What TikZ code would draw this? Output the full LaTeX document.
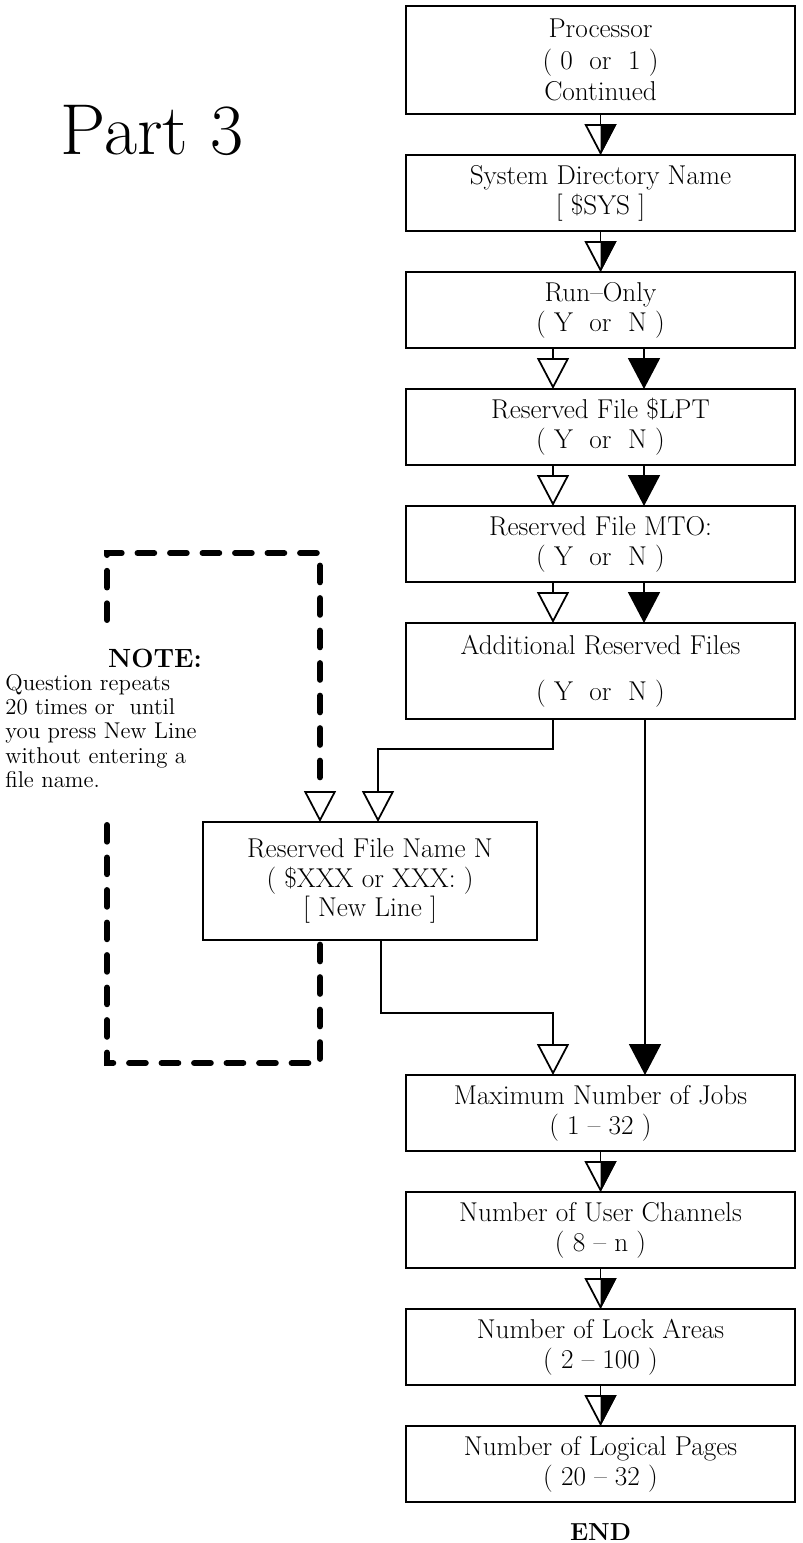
\documentclass[tikz,border=0pt]{standalone}
\usepackage{amsmath,amssymb}
\usetikzlibrary{arrows.meta, positioning, shapes, calc}

\begin{document}
\begin{tikzpicture}[
    node distance=0.82cm,
    box/.style={rectangle, draw, line width=1pt, minimum width=7.78cm, minimum height=1.52cm, align=center, inner sep=0pt, outer sep=0pt, font=\fontsize{15.5}{17}\selectfont},
    openarrow/.style={-{Triangle[open, width=0.64cm, length=0.62cm]}, line width=1pt},
    fillarrow/.style={-{Triangle[width=0.64cm, length=0.62cm]}, line width=1pt},
    halfblack/.pic={\fill (0,0) -- (0,0.62) -- (0.32,0.62) -- cycle;},
    loopline/.style={line width=3.4pt, dash pattern=on 9.5pt off 9pt, line cap=round}
]
    \useasboundingbox (0,0) rectangle (16.04,-30.86);

    % Title
    \node[font=\fontsize{41}{46}\selectfont] (part) at (3.04,-2.6) {Part 3};

    % Main column
    \node[box, minimum height=2.16cm] (proc) at (12.01,-1.2) {Processor\\[1pt]( 0~~or~~1 )\\[1pt]Continued};
    \node[box, below=of proc] (sys) {System Directory Name\\{[}~\$SYS~{]}};
    \node[box, below=of sys] (run) {Run--Only\\( Y~~or~~N )};
    \node[box, below=of run] (lpt) {Reserved File \$LPT\\( Y~~or~~N )};
    \node[box, below=of lpt] (mto) {Reserved File MTO:\\( Y~~or~~N )};
    \node[box, below=of mto, minimum height=1.92cm] (add) {Additional Reserved Files\\[9pt]( Y~~or~~N )};
    \node[box, below=7.12cm of add] (maxjobs) {Maximum Number of Jobs\\( 1 -- 32 )};
    \node[box, below=of maxjobs] (users) {Number of User Channels\\( 8 -- n )};
    \node[box, below=of users] (lock) {Number of Lock Areas\\( 2 -- 100 )};
    \node[box, below=of lock] (pages) {Number of Logical Pages\\( 20 -- 32 )};
    \node[below=0.3cm of pages, font=\fontsize{14}{16}\selectfont\bfseries] (theend) {END};

    % Side branch
    \node[box, minimum width=6.68cm, minimum height=2.36cm] (resname) at (7.40,-17.62) {Reserved File Name N\\( \$XXX or XXX: )\\{[}~New Line~{]}};

    % Note
    \node[font=\fontsize{15}{16}\selectfont\bfseries] (notehead) at (3.10,-13.16) {NOTE:};
    \node[font=\fontsize{13}{13.9}\selectfont, align=left, anchor=west, inner sep=0pt] (notetext) at (0.1,-14.62) {Question repeats\\20 times or~~until\\you press New Line\\without entering a\\file name.};

    % Single arrows
    \draw[openarrow] (proc) -- (sys);
    \pic at (sys.north) {halfblack};
    \draw[openarrow] (sys) -- (run);
    \pic at (run.north) {halfblack};
    \draw[openarrow] (maxjobs) -- (users);
    \pic at (users.north) {halfblack};
    \draw[openarrow] (users) -- (lock);
    \pic at (lock.north) {halfblack};
    \draw[openarrow] (lock) -- (pages);
    \pic at (pages.north) {halfblack};

    % Y / N arrows
    \draw[openarrow] ([xshift=2.94cm]run.south west) -- ([xshift=2.94cm]lpt.north west);
    \draw[fillarrow] ([xshift=4.76cm]run.south west) -- ([xshift=4.76cm]lpt.north west);
    \draw[openarrow] ([xshift=2.94cm]lpt.south west) -- ([xshift=2.94cm]mto.north west);
    \draw[fillarrow] ([xshift=4.76cm]lpt.south west) -- ([xshift=4.76cm]mto.north west);
    \draw[openarrow] ([xshift=2.94cm]mto.south west) -- ([xshift=2.94cm]add.north west);
    \draw[fillarrow] ([xshift=4.76cm]mto.south west) -- ([xshift=4.76cm]add.north west);
    \draw[openarrow] ([xshift=2.94cm]add.south west) -- ++(0,-0.6) -| ([xshift=3.5cm]resname.north west);
    \draw[fillarrow] ([xshift=4.78cm]add.south west) -- ([xshift=4.78cm]maxjobs.north west);
    \draw[openarrow] ([xshift=3.56cm]resname.south west) -- ++(0,-1.46) -| ([xshift=2.94cm]maxjobs.north west);

    % Repeat loop
    \coordinate (loopstart) at (2.14,-12.4);
    \coordinate (looptl) at (2.14,-11.06);
    \coordinate (loopin) at ([xshift=2.34cm,yshift=0.62cm]resname.north west);
    \coordinate (loopout) at ([xshift=2.34cm]resname.south west);
    \coordinate (loopbl) at (2.14,-21.26);
    \coordinate (loopend) at (2.14,-16.5);
    \draw[loopline] (loopstart) -- (looptl) -| (loopin);
    \draw[loopline] (loopend) -- (loopbl) -| (loopout);
    \draw[openarrow] (loopin) -- ([xshift=2.34cm]resname.north west);

\end{tikzpicture}
\end{document}
